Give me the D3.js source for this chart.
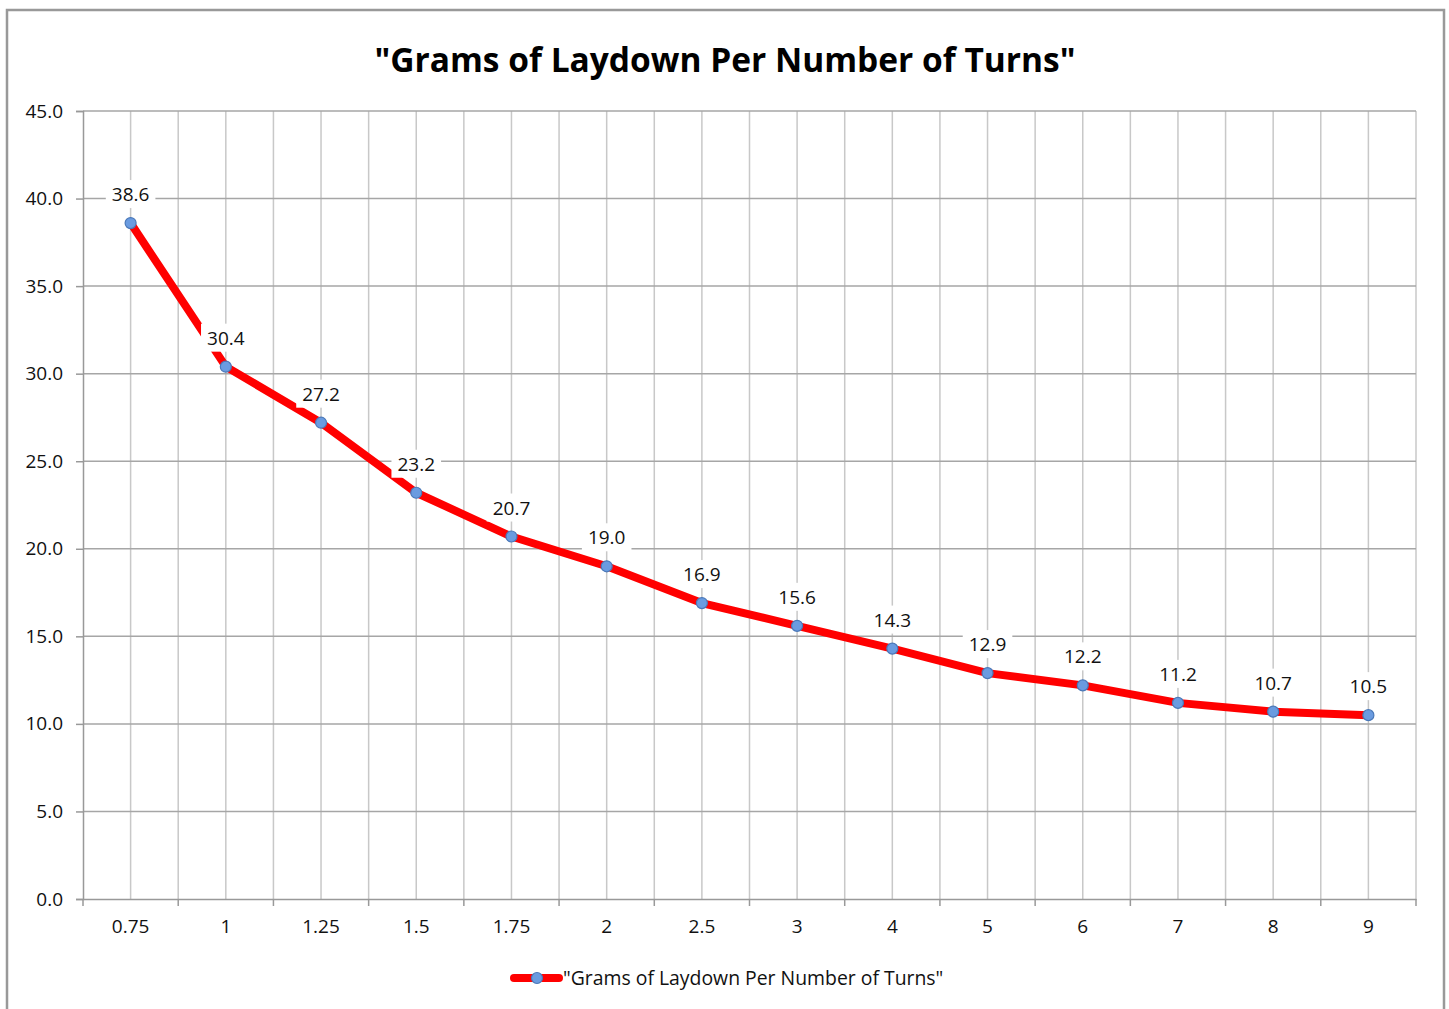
<!DOCTYPE html>
<html><head><meta charset="utf-8">
<script src="https://cdn.jsdelivr.net/npm/d3@7"></script>
<style>body{margin:0;background:#fff;}svg{display:block;}</style>
</head><body>
<svg id="c" width="1449" height="1009"></svg>
<script>
const categories = ["0.75","1","1.25","1.5","1.75","2","2.5","3","4","5","6","7","8","9"];
const values = [38.6,30.4,27.2,23.2,20.7,19.0,16.9,15.6,14.3,12.9,12.2,11.2,10.7,10.5];
const yTicks = [0,5,10,15,20,25,30,35,40,45];
const titleText = '"Grams of Laydown Per Number of Turns"';
const seriesName = '"Grams of Laydown Per Number of Turns"';

const svg = d3.select("#c");
const font = "'Open Sans', sans-serif";
const L = 83, R = 1416, T = 111, B = 899;

// outer border
svg.append("path").attr("d","M7,1009 V10 H1444 V1009").attr("fill","none").attr("stroke","#999").attr("stroke-width",2.5);

const x = d3.scaleBand().domain(categories).range([L,R]).padding(0);
const y = d3.scaleLinear().domain([0,45]).range([B,T]);

// vertical gridlines (centers and boundaries)
const vLines = [];
categories.forEach(c=>{ vLines.push(x(c)+x.bandwidth()/2); vLines.push(x(c)+x.bandwidth()); });
svg.append("g").selectAll("line").data(vLines).join("line")
  .attr("x1",d=>d).attr("x2",d=>d).attr("y1",T).attr("y2",B)
  .attr("stroke","#c8c8c8").attr("stroke-width",1.5);

// horizontal gridlines
svg.append("g").selectAll("line").data(yTicks.filter(d=>d>0)).join("line")
  .attr("x1",L).attr("x2",R).attr("y1",d=>y(d)).attr("y2",d=>y(d))
  .attr("stroke","#a6a6a6").attr("stroke-width",1.5);

// y axis
const ya = svg.append("g").attr("transform",`translate(${L},0)`)
  .call(d3.axisLeft(y).tickValues(yTicks).tickFormat(d3.format(".1f")).tickSize(7).tickPadding(13));
ya.select(".domain").attr("stroke","#999").attr("stroke-width",1.5);
ya.selectAll(".tick line").attr("stroke","#999").attr("stroke-width",1.5);
ya.selectAll("text").attr("font-family",font).attr("font-size",19).attr("fill","#111");

// x axis
const xa = svg.append("g").attr("transform",`translate(0,${B})`)
  .call(d3.axisBottom(x).tickSize(0).tickPadding(21));
xa.select(".domain").attr("stroke","#999").attr("stroke-width",1.5);
xa.selectAll("text").attr("font-family",font).attr("font-size",19).attr("fill","#111");
svg.append("g").selectAll("line").data([L].concat(categories.map(c=>x(c)+x.bandwidth()))).join("line")
  .attr("x1",d=>d).attr("x2",d=>d).attr("y1",B).attr("y2",B+7).attr("stroke","#999").attr("stroke-width",1.5);

const cx = c=>x(c)+x.bandwidth()/2;
const pts = categories.map((c,i)=>[cx(c), y(values[i])]);

// line
svg.append("path").datum(pts).attr("d",d3.line())
  .attr("fill","none").attr("stroke","#ff0000").attr("stroke-width",8).attr("stroke-linejoin","round");

// labels with white boxes
const lg = svg.append("g");
categories.forEach((c,i)=>{
  const px = cx(c), py = y(values[i]);
  const g = lg.append("g");
  const t = g.append("text").attr("x",px).attr("y",py-22).attr("text-anchor","middle")
    .attr("font-family",font).attr("font-size",19).attr("fill","#111").text(values[i].toFixed(1));
  const bb = t.node().getBBox();
  g.insert("rect","text").attr("x",bb.x-6).attr("y",bb.y-1).attr("width",bb.width+12).attr("height",bb.height+2).attr("fill","#fff");
});

// markers
svg.append("g").selectAll("circle").data(pts).join("circle")
  .attr("cx",d=>d[0]).attr("cy",d=>d[1]).attr("r",5.5)
  .attr("fill","#6a9be0").attr("stroke","#4a78b8").attr("stroke-width",1.2);

// title
svg.append("text").attr("x",725).attr("y",72).attr("text-anchor","middle")
  .attr("font-family",font).attr("font-weight","bold").attr("font-size",33.5).attr("fill","#000").text(titleText);

// legend
svg.append("line").attr("x1",514).attr("x2",559).attr("y1",978).attr("y2",978)
  .attr("stroke","#ff0000").attr("stroke-width",8).attr("stroke-linecap","round");
svg.append("circle").attr("cx",537).attr("cy",978).attr("r",5.5).attr("fill","#6a9be0").attr("stroke","#4a78b8").attr("stroke-width",1.2);
svg.append("text").attr("x",563).attr("y",985).attr("font-family",font).attr("font-size",19.4).attr("fill","#111").text(seriesName);
</script>
</body></html>
